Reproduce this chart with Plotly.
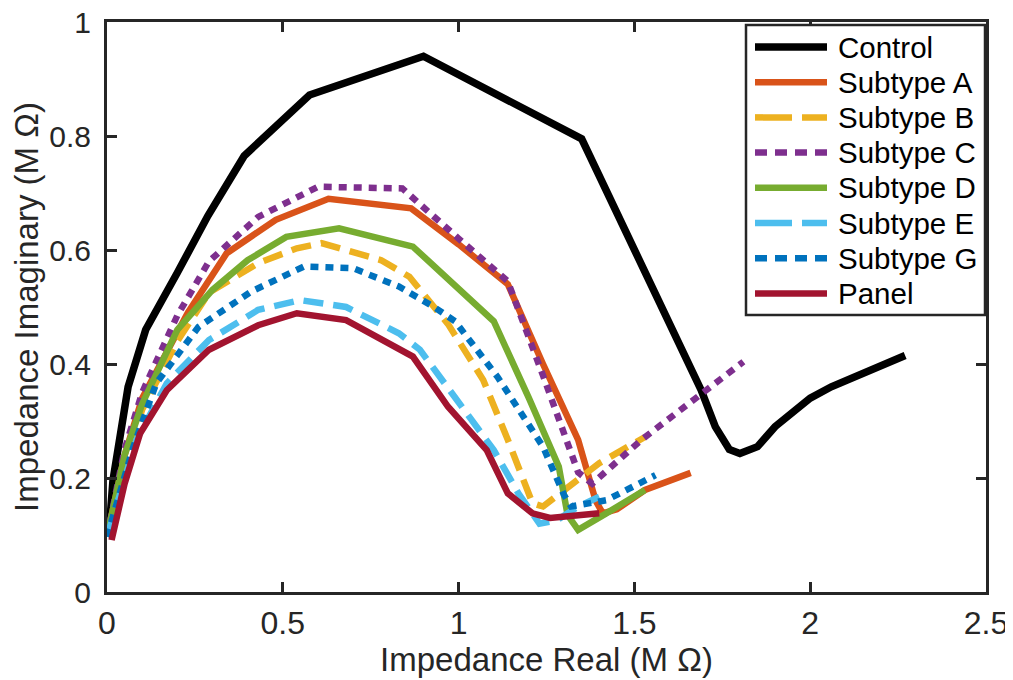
import plotly.graph_objects as go

names = ["Control", "Subtype A", "Subtype B", "Subtype C", "Subtype D", "Subtype E", "Subtype G", "Panel"]
colors = ["#000000", "#D95319", "#EDB120", "#7E2F8E", "#77AC30", "#4DBEEE", "#0072BD", "#A2142F"]
dashes = ["solid", "solid", "20px,10px", "8px,7px", "solid", "20px,10px", "8px,7px", "solid"]
legend_dashes = ["solid", "solid", "37px,10px", "12px,8px", "solid", "37px,10px", "12px,8px", "solid"]

control_x = [0.005, 0.017, 0.06, 0.11, 0.20, 0.287, 0.39, 0.576, 0.90, 1.35, 1.69, 1.73, 1.77, 1.80, 1.85, 1.90, 2.00, 2.06, 2.27]
control_y = [0.10, 0.196, 0.36, 0.46, 0.56, 0.66, 0.765, 0.872, 0.94, 0.795, 0.354, 0.29, 0.25, 0.243, 0.255, 0.29, 0.34, 0.36, 0.415]

a_x = [0.0, 0.05, 0.10, 0.23, 0.34, 0.48, 0.63, 0.865, 1.00, 1.14, 1.24, 1.34, 1.39, 1.41, 1.45, 1.53, 1.66]
a_y = [0.097, 0.24, 0.34, 0.49, 0.594, 0.653, 0.69, 0.673, 0.61, 0.54, 0.40, 0.267, 0.16, 0.138, 0.145, 0.179, 0.209]

b_x = [0.0, 0.05, 0.10, 0.20, 0.29, 0.43, 0.54, 0.61, 0.78, 0.86, 0.97, 1.07, 1.14, 1.21, 1.24, 1.40, 1.53]
b_y = [0.097, 0.22, 0.32, 0.44, 0.525, 0.577, 0.603, 0.612, 0.582, 0.553, 0.47, 0.372, 0.267, 0.156, 0.15, 0.226, 0.272]

c_x = [0.0, 0.05, 0.10, 0.20, 0.29, 0.43, 0.60, 0.84, 1.00, 1.14, 1.24, 1.34, 1.38, 1.52, 1.81]
c_y = [0.097, 0.25, 0.35, 0.485, 0.58, 0.658, 0.711, 0.708, 0.62, 0.545, 0.38, 0.21, 0.19, 0.267, 0.404]

d_x = [0.0, 0.05, 0.10, 0.20, 0.30, 0.40, 0.51, 0.66, 0.87, 1.10, 1.20, 1.285, 1.31, 1.34, 1.42, 1.53]
d_y = [0.097, 0.24, 0.33, 0.46, 0.53, 0.582, 0.623, 0.638, 0.606, 0.475, 0.34, 0.22, 0.135, 0.109, 0.138, 0.179]

e_x = [0.0, 0.084, 0.17, 0.29, 0.43, 0.55, 0.68, 0.83, 0.89, 0.99, 1.10, 1.17, 1.23, 1.28, 1.34, 1.40]
e_y = [0.097, 0.267, 0.366, 0.442, 0.495, 0.512, 0.50, 0.454, 0.425, 0.343, 0.249, 0.173, 0.12, 0.126, 0.15, 0.167]

g_x = [0.0, 0.075, 0.14, 0.26, 0.41, 0.56, 0.70, 0.83, 0.93, 0.99, 1.11, 1.24, 1.30, 1.32, 1.42, 1.56]
g_y = [0.097, 0.255, 0.366, 0.465, 0.527, 0.571, 0.568, 0.536, 0.50, 0.475, 0.378, 0.255, 0.17, 0.15, 0.161, 0.205]

panel_x = [0.013, 0.05, 0.094, 0.17, 0.29, 0.43, 0.54, 0.68, 0.87, 0.97, 1.08, 1.14, 1.21, 1.26, 1.40]
panel_y = [0.091, 0.19, 0.278, 0.354, 0.425, 0.468, 0.489, 0.477, 0.413, 0.325, 0.249, 0.173, 0.138, 0.13, 0.138]

x_ticks = [0, 0.5, 1, 1.5, 2, 2.5]
x_tick_labels = ["0", "0.5", "1", "1.5", "2", "2.5"]
y_ticks = [0, 0.2, 0.4, 0.6, 0.8, 1]
y_tick_labels = ["0", "0.2", "0.4", "0.6", "0.8", "1"]

series = [(control_x, control_y), (a_x, a_y), (b_x, b_y), (c_x, c_y),
          (d_x, d_y), (e_x, e_y), (g_x, g_y), (panel_x, panel_y)]

def lw(name):
    return 7.5 if name == "Control" else 6.5

fig = go.Figure()
for (xs, ys), name, col, dsh in zip(series, names, colors, dashes):
    fig.add_trace(go.Scatter(
        x=xs, y=ys, mode="lines", name=name, showlegend=False,
        line=dict(color=col, width=lw(name), dash=dsh),
    ))

AX = "#262626"
FONT = "Liberation Sans, Arial, sans-serif"

# the page body has an 8px default margin; compensate so the plot lands where the reference has it
OFF = 8
W, H = 1013 - OFF, 680 - OFF
L, R, T, B = 107 - OFF, 986 - OFF, 22 - OFF, 592 - OFF

fig.update_layout(
    width=W, height=H,
    margin=dict(l=L, r=W - R, t=T, b=H - B, autoexpand=False),
    paper_bgcolor="white", plot_bgcolor="white",
    showlegend=False,
    xaxis=dict(
        range=[0, 2.5], tickvals=x_ticks, ticktext=x_tick_labels,
        ticks="inside", ticklen=10, tickwidth=2.5, tickcolor=AX,
        showline=True, linewidth=3, linecolor=AX, mirror="ticks",
        showgrid=False, zeroline=False, automargin=False,
        ticklabelstandoff=1, ticklabeloverflow="allow",
        tickfont=dict(family=FONT, size=32, color=AX),
        title=dict(text="Impedance Real (M Ω)", font=dict(family=FONT, size=33, color=AX), standoff=8),
    ),
    yaxis=dict(
        range=[0, 1], tickvals=y_ticks, ticktext=y_tick_labels,
        ticks="inside", ticklen=10, tickwidth=2.5, tickcolor=AX,
        showline=True, linewidth=3, linecolor=AX, mirror="ticks",
        showgrid=False, zeroline=False, automargin=False,
        ticklabelstandoff=7, ticklabeloverflow="allow",
        tickfont=dict(family=FONT, size=30, color=AX),
        title=dict(text="Impedance Imaginary (M Ω)", font=dict(family=FONT, size=33, color=AX), standoff=5),
    ),
)

def px_x(p):
    return (p - OFF - L) / (R - L)

def px_y(p):
    return (B - (p - OFF)) / (B - T)

# custom legend (MATLAB style), positions given in reference pixels
fig.add_shape(type="rect", xref="paper", yref="paper",
              x0=px_x(746), x1=px_x(985), y0=px_y(315), y1=px_y(25),
              line=dict(color=AX, width=2.5), fillcolor="white", layer="above")
row_px = [47 + 35.2 * i for i in range(len(names))]
for name, col, dsh, py in zip(names, colors, legend_dashes, row_px):
    yp = px_y(py)
    fig.add_shape(type="line", xref="paper", yref="paper", x0=px_x(755), x1=px_x(827), y0=yp, y1=yp,
                  line=dict(color=col, width=lw(name), dash=dsh), layer="above")
    fig.add_annotation(xref="paper", yref="paper", x=px_x(836), y=yp, text=name, showarrow=False,
                       xanchor="left", yanchor="middle",
                       font=dict(family=FONT, size=29.5, color="#000000"))

fig.write_html("out.html")
